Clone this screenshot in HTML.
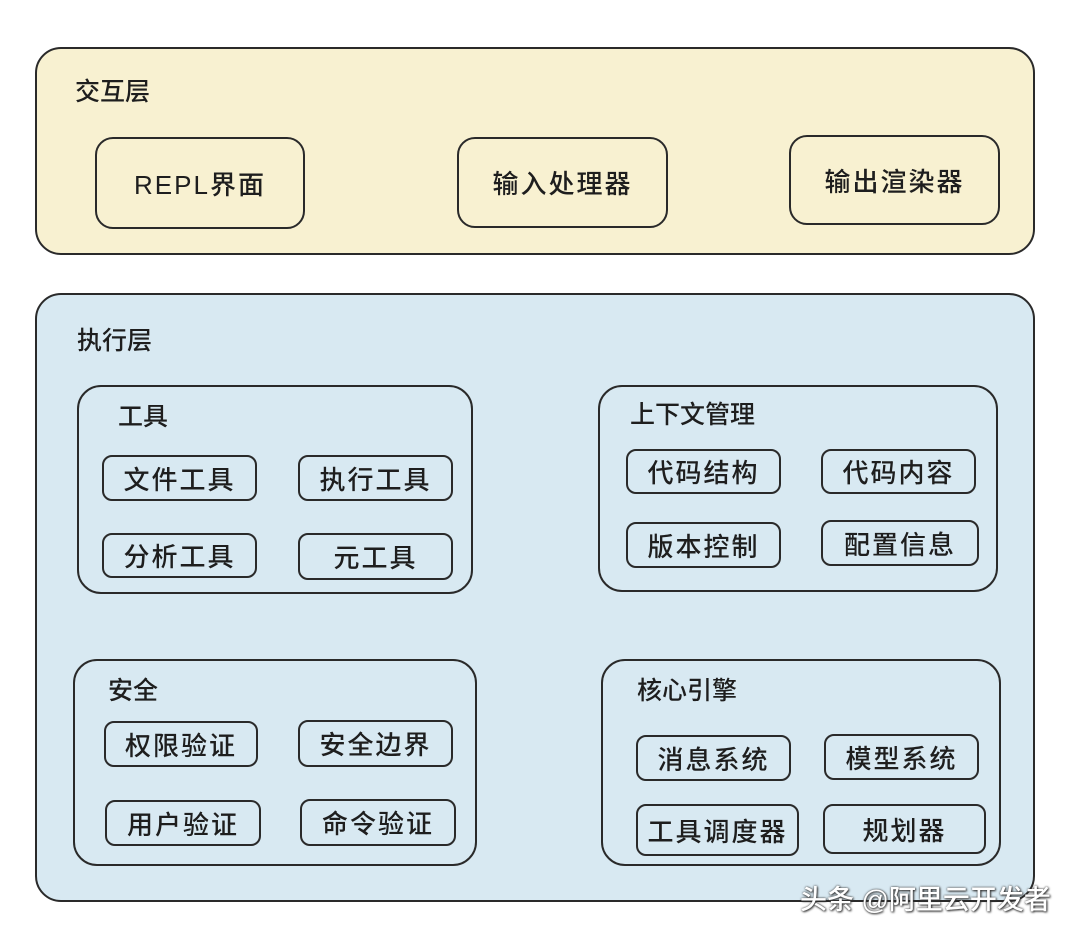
<!DOCTYPE html>
<html><head><meta charset="utf-8"><style>
body{margin:0;width:1080px;height:940px;background:#fff;position:relative;overflow:hidden;font-family:"Liberation Sans","Noto Sans CJK SC",sans-serif;color:#1e1e1e}
.b{position:absolute;box-sizing:border-box;border:2px solid #2a2a2a;display:flex;align-items:center;justify-content:center}
.t{position:absolute;font-size:25px;line-height:1;white-space:nowrap;font-weight:500}
.s{font-size:26px;letter-spacing:2px;font-weight:500}
</style></head><body>
<div class="b" style="left:35px;top:47px;width:1000px;height:208px;border-radius:26px;background:#f8f1d1"></div>
<div class="t" style="left:75px;top:80px">交互层</div>
<div class="b s" style="left:95px;top:137px;width:210px;height:92px;border-radius:18px">REPL界面</div>
<div class="b s" style="left:457px;top:137px;width:211px;height:91px;border-radius:18px">输入处理器</div>
<div class="b s" style="left:789px;top:135px;width:211px;height:90px;border-radius:18px">输出渲染器</div>

<div class="b" style="left:35px;top:293px;width:1000px;height:609px;border-radius:26px;background:#d8e9f2"></div>
<div class="t" style="left:77px;top:329px">执行层</div>

<div class="b" style="left:77px;top:385px;width:396px;height:209px;border-radius:24px"></div>
<div class="t" style="left:118px;top:405px">工具</div>
<div class="b s" style="left:102px;top:455px;width:155px;height:46px;border-radius:10px">文件工具</div>
<div class="b s" style="left:298px;top:455px;width:155px;height:46px;border-radius:10px">执行工具</div>
<div class="b s" style="left:102px;top:533px;width:155px;height:45px;border-radius:10px">分析工具</div>
<div class="b s" style="left:298px;top:533px;width:155px;height:47px;border-radius:10px">元工具</div>

<div class="b" style="left:598px;top:385px;width:400px;height:207px;border-radius:24px"></div>
<div class="t" style="left:630px;top:403px">上下文管理</div>
<div class="b s" style="left:626px;top:449px;width:155px;height:45px;border-radius:10px">代码结构</div>
<div class="b s" style="left:821px;top:449px;width:155px;height:45px;border-radius:10px">代码内容</div>
<div class="b s" style="left:626px;top:522px;width:155px;height:46px;border-radius:10px">版本控制</div>
<div class="b s" style="left:821px;top:520px;width:158px;height:46px;border-radius:10px">配置信息</div>

<div class="b" style="left:73px;top:659px;width:404px;height:207px;border-radius:24px"></div>
<div class="t" style="left:108px;top:679px">安全</div>
<div class="b s" style="left:104px;top:721px;width:154px;height:46px;border-radius:10px">权限验证</div>
<div class="b s" style="left:298px;top:720px;width:155px;height:47px;border-radius:10px">安全边界</div>
<div class="b s" style="left:105px;top:800px;width:156px;height:46px;border-radius:10px">用户验证</div>
<div class="b s" style="left:300px;top:799px;width:156px;height:47px;border-radius:10px">命令验证</div>

<div class="b" style="left:601px;top:659px;width:400px;height:207px;border-radius:24px"></div>
<div class="t" style="left:637px;top:679px">核心引擎</div>
<div class="b s" style="left:636px;top:735px;width:155px;height:46px;border-radius:10px">消息系统</div>
<div class="b s" style="left:824px;top:734px;width:155px;height:46px;border-radius:10px">模型系统</div>
<div class="b s" style="left:636px;top:804px;width:163px;height:52px;border-radius:10px">工具调度器</div>
<div class="b s" style="left:823px;top:804px;width:163px;height:50px;border-radius:10px">规划器</div>

<div class="t" style="left:800px;top:887px;font-size:27px;color:#fff;text-shadow:0 0 2px #333,1px 1px 2px #333">头条 @阿里云开发者</div>
</body></html>
